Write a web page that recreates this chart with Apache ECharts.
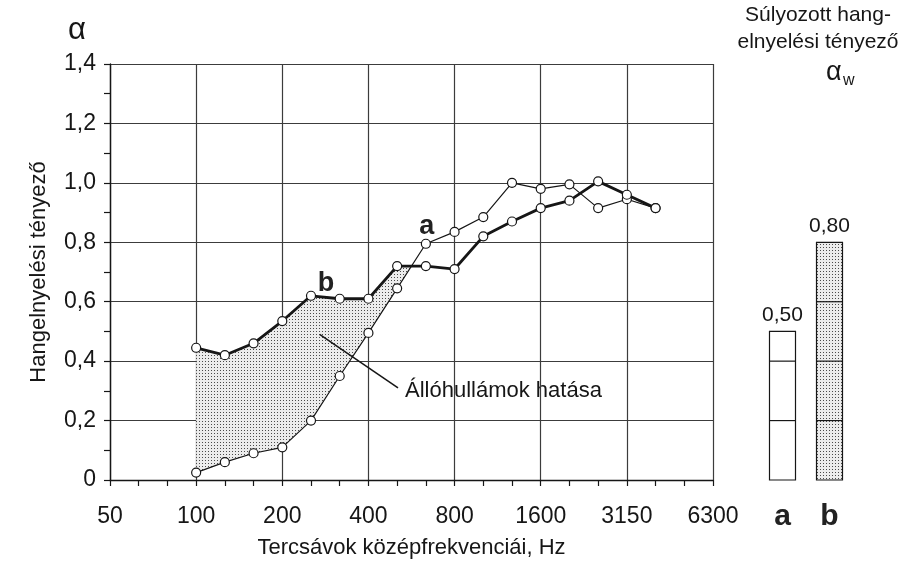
<!DOCTYPE html>
<html>
<head>
<meta charset="utf-8">
<script src="https://cdn.jsdelivr.net/npm/echarts@6/dist/echarts.min.js"></script>
<style>
  html, body { margin: 0; padding: 0; background: #ffffff; }
  #chart { width: 905px; height: 565px; }
</style>
</head>
<body>
<div id="chart"></div>
<script>
// Third-octave band centre frequencies shown on the x axis (Hz)
const bands = ['50', '63', '80', '100', '125', '160', '200', '250', '315', '400', '500',
               '630', '800', '1000', '1250', '1600', '2000', '2500', '3150', '4000', '5000', '6300'];
// Bands where the absorption coefficient was measured
const measuredBands = ['100', '125', '160', '200', '250', '315', '400', '500', '630', '800',
                       '1000', '1250', '1600', '2000', '2500', '3150', '4000'];
// Curve "a"
const alphaA = [0.025, 0.06, 0.09, 0.11, 0.20, 0.35, 0.495, 0.645, 0.795, 0.835,
                0.885, 1.00, 0.98, 0.995, 0.915, 0.945, 0.915];
// Curve "b"
const alphaB = [0.445, 0.42, 0.46, 0.535, 0.62, 0.61, 0.61, 0.72, 0.72, 0.71,
                0.82, 0.87, 0.915, 0.94, 1.005, 0.96, 0.915];
// Weighted absorption coefficients
const ratedNames = ['a', 'b'];
const ratedValues = [0.50, 0.80];
// Y axis ticks
const yMin = 0, yMax = 1.4, yStep = 0.2;

const FONT = '"Liberation Sans", Arial, sans-serif';
const INK = '#161616';
const GRID = '#3c3c3c';

const fmtComma = (v, d) => (Math.abs(v) < 1e-9 ? '0' : v.toFixed(d).replace('.', ','));

// stipple fill
function makeStipple() {
  const c = document.createElement('canvas');
  c.width = 3; c.height = 3;
  const g = c.getContext('2d');
  g.fillStyle = '#ececec';
  g.fillRect(0, 0, 3, 3);
  g.fillStyle = '#4a4a4a';
  g.fillRect(1, 1, 1, 1);
  return { image: c, repeat: 'repeat' };
}
const stipple = makeStipple();

const bandIndex = measuredBands.map(b => bands.indexOf(b));
const seriesA = alphaA.map((v, i) => [bandIndex[i], v]);
const seriesB = alphaB.map((v, i) => [bandIndex[i], v]);

// Region where curve b lies above curve a, up to where they cross
function shadedOutline() {
  const upper = [], lower = [];
  for (let i = 0; i < alphaA.length; i++) {
    const d = alphaB[i] - alphaA[i];
    if (d >= 0) {
      upper.push([bandIndex[i], alphaB[i]]);
      lower.push([bandIndex[i], alphaA[i]]);
    } else {
      const dPrev = alphaB[i - 1] - alphaA[i - 1];
      const t = dPrev / (dPrev - d);
      const x = bandIndex[i - 1] + t * (bandIndex[i] - bandIndex[i - 1]);
      const y = alphaA[i - 1] + t * (alphaA[i] - alphaA[i - 1]);
      upper.push([x, y]);
      break;
    }
  }
  return upper.concat(lower.reverse());
}
const outline = shadedOutline();

const symbolStyle = { color: '#ffffff', borderColor: INK, borderWidth: 1.2 };

const pointLabel = (text, offset) => ({
  show: true, position: 'top', distance: 2, offset: offset,
  formatter: text, fontFamily: FONT, fontSize: 27, fontWeight: 'bold', color: '#222'
});

const dataA = seriesA.map((p, i) =>
  measuredBands[i] === '630' ? { value: p, label: pointLabel('a', [1, 3]) } : p);
const dataB = seriesB.map((p, i) =>
  measuredBands[i] === '250' ? { value: p, label: pointLabel('b', [15, 8]) } : p);

const chart = echarts.init(document.getElementById('chart'), null, { renderer: 'canvas' });

chart.setOption({
  backgroundColor: '#ffffff',
  animation: false,
  grid: [
    { left: 110, right: 192, top: 64, bottom: 85 },
    { left: 759, width: 94, top: 64, bottom: 85 }
  ],
  xAxis: [
    {
      type: 'value', gridIndex: 0, min: 0, max: bands.length - 1, interval: 3,
      axisLine: { show: true, onZero: false, lineStyle: { color: INK, width: 1.4 } },
      axisTick: { show: true, length: 6, lineStyle: { color: INK, width: 1.2 } },
      minorTick: { show: true, splitNumber: 3, length: 6, lineStyle: { color: INK, width: 1.2 } },
      splitLine: { show: true, lineStyle: { color: GRID, width: 1.2 } },
      axisLabel: {
        margin: 25, fontFamily: FONT, fontSize: 23, color: INK,
        formatter: v => bands[Math.round(v)] || ''
      },
      name: 'Tercsávok középfrekvenciái, Hz', nameLocation: 'middle', nameGap: 57,
      nameTextStyle: { fontFamily: FONT, fontSize: 22, color: INK }
    },
    {
      type: 'category', gridIndex: 1, data: ratedNames,
      axisLine: { show: false }, axisTick: { show: false }, splitLine: { show: false },
      axisLabel: { margin: 22, fontFamily: FONT, fontSize: 30, fontWeight: 'bold', color: '#222' }
    }
  ],
  yAxis: [
    {
      type: 'value', gridIndex: 0, min: yMin, max: yMax, interval: yStep,
      axisLine: { show: true, lineStyle: { color: INK, width: 1.4 } },
      axisTick: { show: true, length: 6, lineStyle: { color: INK, width: 1.2 } },
      minorTick: { show: true, splitNumber: 2, length: 6, lineStyle: { color: INK, width: 1.2 } },
      splitLine: { show: true, lineStyle: { color: GRID, width: 1.2 } },
      axisLabel: { margin: 14, fontFamily: FONT, fontSize: 23, color: INK, formatter: v => fmtComma(v, 1) },
      name: 'Hangelnyelési tényező', nameLocation: 'middle', nameGap: 60,
      nameTextStyle: { fontFamily: FONT, fontSize: 22, color: INK }
    },
    {
      type: 'value', gridIndex: 1, min: yMin, max: yMax,
      show: false, splitLine: { show: false }
    }
  ],
  graphic: [
    { type: 'text', x: 68, y: 15, style: { text: 'α', font: '31px ' + FONT, fill: INK } },
    { type: 'text', x: 818, y: 5, style: { text: 'Súlyozott hang-', font: '21px ' + FONT, fill: INK, align: 'center' } },
    { type: 'text', x: 818, y: 32, style: { text: 'elnyelési tényező', font: '21px ' + FONT, fill: INK, align: 'center' } },
    { type: 'text', x: 826, y: 59, style: { text: 'α', font: '27px ' + FONT, fill: INK } },
    { type: 'text', x: 843, y: 73, style: { text: 'w', font: '16px ' + FONT, fill: INK } },
    { type: 'text', x: 405, y: 380, style: { text: 'Állóhullámok hatása', font: '22px ' + FONT, fill: INK } }
  ],
  series: [
    {
      type: 'custom', xAxisIndex: 0, yAxisIndex: 0, silent: true, z: 1,
      data: [[0, 0]],
      renderItem: (params, api) => ({
        type: 'polygon',
        shape: { points: outline.map(p => api.coord(p)) },
        style: { fill: stipple, stroke: null }
      })
    },
    {
      type: 'line', xAxisIndex: 0, yAxisIndex: 0, z: 3,
      data: dataA, symbol: 'circle', symbolSize: 9, showAllSymbol: true,
      lineStyle: { color: INK, width: 1.2 }, itemStyle: symbolStyle,
      markLine: {
        silent: true, symbol: 'none', label: { show: false },
        lineStyle: { color: INK, width: 1.5, type: 'solid' },
        data: [[{ coord: [7.3, 0.49] }, { coord: [10.03, 0.31] }]]
      }
    },
    {
      type: 'line', xAxisIndex: 0, yAxisIndex: 0, z: 4,
      data: dataB, symbol: 'circle', symbolSize: 9, showAllSymbol: true,
      lineStyle: { color: INK, width: 2.8 }, itemStyle: symbolStyle
    },
    {
      type: 'custom', xAxisIndex: 1, yAxisIndex: 1, silent: true,
      data: ratedValues.map((v, i) => [i, v]),
      renderItem: (params, api) => {
        const cat = api.value(0), v = api.value(1);
        const top = api.coord([cat, v]);
        const base = api.coord([cat, 0]);
        const w = 26;
        const x0 = top[0] - w / 2;
        const children = [{
          type: 'rect',
          shape: { x: x0, y: top[1], width: w, height: base[1] - top[1] },
          style: { fill: params.dataIndex === 1 ? stipple : '#ffffff', stroke: INK, lineWidth: 1.2 }
        }];
        for (let k = yStep; k < v - 1e-6; k += yStep) {
          const yk = api.coord([cat, k])[1];
          children.push({
            type: 'line',
            shape: { x1: x0, y1: yk, x2: x0 + w, y2: yk },
            style: { stroke: INK, lineWidth: 1.2 }
          });
        }
        children.push({
          type: 'text',
          style: {
            text: fmtComma(v, 2), x: top[0], y: top[1] - 6,
            align: 'center', verticalAlign: 'bottom',
            font: '21px ' + FONT, fill: INK
          }
        });
        return { type: 'group', children };
      }
    }
  ]
});
</script>
</body>
</html>
